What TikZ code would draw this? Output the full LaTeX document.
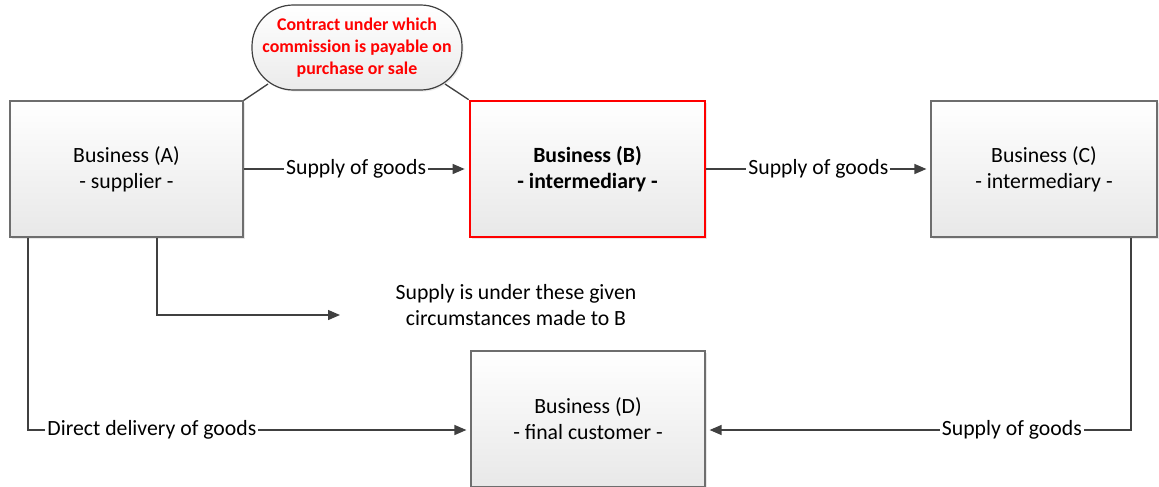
\documentclass[tikz,border=0pt]{standalone}
\usepackage{fontspec}
\usepackage{xcolor}
\setmainfont{Carlito}
\usetikzlibrary{arrows.meta,shadows}

\definecolor{linegray}{HTML}{404040}
\definecolor{boxgray}{HTML}{6E6E6E}

\tikzset{
  txt/.style={font=\fontsize{16.3}{19.6}\selectfont},
  bizbox/.style={txt, draw=boxgray, line width=0.9pt, top color=white, bottom color=black!9,
    minimum width=174.75pt, minimum height=102pt, align=center,
    drop shadow={shadow xshift=1.5pt, shadow yshift=-1.5pt, opacity=0.18}},
  keybox/.style={bizbox, draw=red, line width=2pt},
  bubble/.style={draw=linegray, line width=0.9pt, top color=white, bottom color=black!8,
    rounded corners=31pt, minimum width=157.5pt, minimum height=63.75pt, align=center,
    text=red, font=\bfseries\fontsize{13.4}{16.5}\selectfont,
    drop shadow={shadow xshift=1.2pt, shadow yshift=-1.2pt, opacity=0.15}},
  link/.style={draw=linegray, line width=1pt},
  flow/.style={link, -{Triangle[length=9pt, width=7.5pt]}, shorten >=3pt},
  lbl/.style={txt, fill=white, inner sep=1.5pt}
}

\begin{document}
\begin{tikzpicture}[x=0.75pt, y=-0.75pt]
  \clip (0,0) rectangle (1159,486);

  % the four businesses
  \node[bizbox] (A) at (126.5,169) {Business (A)\\- supplier -};
  \node[keybox, minimum width=176.25pt] (B) at (587.5,169) {\textbf{Business (B)}\\\textbf{- intermediary -}};
  \node[bizbox, minimum width=169.5pt] (C) at (1044,169) {Business (C)\\- intermediary -};
  \node[bizbox, minimum width=175.5pt] (D) at (588,419) {Business (D)\\- final customer -};

  % contract bubble between A and B
  \coordinate (cL) at (268,84);
  \coordinate (cR) at (445,84);
  \draw[link] (A.north east) -- (cL);
  \draw[link] (B.north west) -- (cR);
  \node[bubble] (deal) at (357,47.5) {Contract under which\\commission is payable on\\purchase or sale};

  % chain of supplies
  \draw[flow] (A.east) -- node[lbl] {Supply of goods} (B.west);
  \draw[flow] (B.east) -- node[lbl] {Supply of goods} (C.west);

  % note on who the supply is made to
  \node[txt, align=center] (note) at (516,305) {Supply is under these given\\circumstances made to B};
  \coordinate (noteIn) at (340,315);
  \draw[flow, shorten >=0pt] (A.south -| 157,0) |- (noteIn);

  % goods going straight to the final customer
  \draw[flow] (A.south -| 28,0) |- node[lbl, pos=0.64] {Direct delivery of goods} ([yshift=-8.25pt]D.west);
  \draw[flow] (C.south -| 1131,0) |- node[lbl, pos=0.64] {Supply of goods} ([yshift=-8.25pt]D.east);
\end{tikzpicture}
\end{document}
